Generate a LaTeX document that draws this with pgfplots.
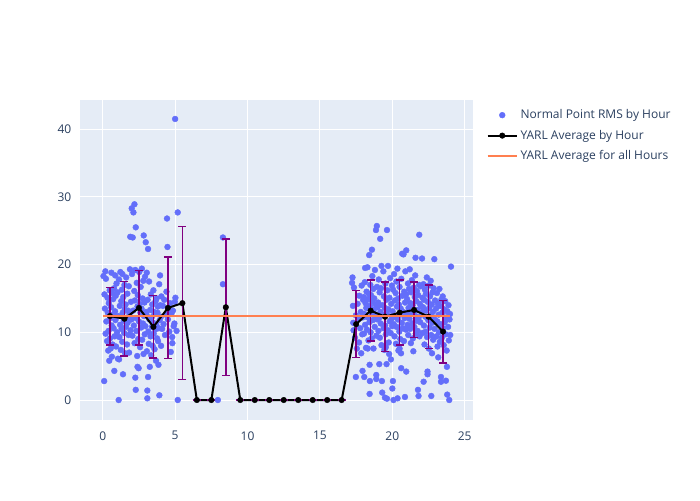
\documentclass[border=0pt]{standalone}
\usepackage{fontspec}
\setmainfont{Open Sans}
\usepackage{pgfplots}
\usepackage{pgfplotstable}
\pgfplotsset{compat=1.18}
\definecolor{bg}{HTML}{E5ECF6}
\definecolor{txt}{HTML}{2A3F5F}
\definecolor{pts}{HTML}{636EFA}
\definecolor{avg}{HTML}{FF7F50}
\definecolor{ebar}{RGB}{128,0,128}

\pgfplotstableread{
x y
0.05 18.3
0.1 2.8
0.12 15.6
0.15 13.5
0.2 9.8
0.22 17.9
0.25 11.6
0.3 8.7
0.33 15.1
0.35 12.9
0.4 10.2
0.42 14.3
0.45 5.8
0.48 16.2
0.5 9.1
0.52 12.1
0.55 7.6
0.58 13.7
0.6 18.8
0.62 11.0
0.65 15.8
0.68 8.2
0.7 12.6
0.72 14.9
0.75 10.6
0.78 16.5
0.8 4.3
0.82 9.4
0.85 13.1
0.88 11.8
0.9 15.4
0.92 7.9
0.95 17.2
0.97 12.3
0.99 10.0
0.18 19.0
0.38 7.3
0.63 6.4
0.86 18.4
1.02 15.9
1.05 6.1
1.08 12.4
1.1 0.0
1.12 17.8
1.15 9.3
1.18 13.9
1.2 11.1
1.22 18.9
1.25 7.4
1.28 14.6
1.3 10.5
1.33 16.3
1.35 8.6
1.38 12.9
1.4 3.8
1.42 15.2
1.45 11.7
1.48 9.9
1.5 17.0
1.52 13.4
1.55 6.9
1.58 14.1
1.6 10.8
1.62 18.1
1.65 12.0
1.68 8.2
1.7 15.7
1.72 11.4
1.75 13.2
1.78 9.6
1.8 16.8
1.82 7.0
1.85 12.7
1.88 19.3
1.9 24.1
1.92 10.3
1.95 14.5
1.98 11.9
1.13 6.0
1.36 18.6
2.0 28.3
2.02 18.6
2.05 9.5
2.07 24.0
2.1 13.2
2.12 27.7
2.15 11.0
2.18 16.1
2.19 28.9
2.2 8.4
2.22 14.7
2.25 19.2
2.25 3.3
2.28 25.5
2.28 1.5
2.3 12.1
2.32 10.2
2.35 17.3
2.38 6.5
2.4 13.8
2.42 15.5
2.45 9.0
2.48 4.7
2.5 11.6
2.52 18.9
2.55 14.2
2.58 7.8
2.6 12.9
2.62 16.7
2.65 10.7
2.68 13.5
2.7 19.4
2.72 8.9
2.75 15.0
2.78 11.3
2.8 17.6
2.82 6.8
2.83 24.3
2.85 12.4
2.88 14.4
2.9 9.7
2.92 18.2
2.95 10.9
2.97 23.3
2.98 13.0
2.4 4.9
3.02 12.6
3.05 7.2
3.08 1.4
3.08 0.25
3.1 14.8
3.13 22.3
3.13 3.4
3.15 10.1
3.18 8.3
3.2 17.5
3.22 11.9
3.25 4.9
3.28 13.3
3.3 9.4
3.32 15.6
3.35 6.6
3.38 12.2
3.4 10.8
3.42 14.1
3.45 8.0
3.48 11.4
3.5 16.2
3.52 9.8
3.55 13.0
3.58 7.5
3.6 12.7
3.62 10.4
3.65 14.6
3.68 5.8
3.7 11.1
3.72 15.0
3.75 9.1
3.78 12.9
3.8 13.8
3.82 8.7
3.85 5.2
3.87 10.6
3.9 17.1
3.91 0.7
3.93 11.8
3.96 18.4
3.98 14.0
3.04 18.8
4.02 12.3
4.03 8.0
4.05 15.3
4.1 10.5
4.15 13.9
4.2 11.2
4.25 14.8
4.3 9.6
4.35 12.6
4.4 16.0
4.44 26.8
4.47 22.6
4.5 11.9
4.55 13.4
4.6 10.1
4.65 14.3
4.7 7.1
4.75 12.8
4.8 9.3
4.81 8.4
4.85 13.2
4.9 10.9
4.95 11.3
4.98 14.5
5.0 41.5
5.02 15.1
5.18 27.7
5.18 0.0
5.1 10.2
7.95 0.0
8.3 24.0
8.3 17.1
}\lefttab

\pgfplotstableread{
x y
17.22 17.3
17.25 18.1
17.28 13.9
17.3 11.4
17.32 10.3
17.35 16.6
17.48 3.4
17.42 9.2
17.48 12.5
17.55 7.6
17.6 14.2
17.65 11.9
17.7 8.5
17.72 15.4
17.78 10.6
17.82 13.0
17.85 6.9
17.88 16.9
17.92 9.7
17.94 4.3
17.96 12.2
17.98 14.8
18.02 15.2
18.04 9.8
18.06 3.4
18.08 12.7
18.1 17.4
18.12 11.1
18.15 14.3
18.18 7.7
18.2 13.6
18.22 16.0
18.25 10.4
18.28 19.6
18.3 12.2
18.32 14.9
18.35 8.8
18.38 15.7
18.4 21.4
18.42 11.5
18.43 0.9
18.43 5.2
18.45 2.8
18.46 13.9
18.48 17.0
18.5 10.0
18.52 15.5
18.55 12.9
18.58 9.1
18.59 22.2
18.6 14.6
18.62 18.3
18.65 11.8
18.68 16.4
18.7 7.6
18.72 13.3
18.75 15.0
18.78 10.8
18.8 19.2
18.82 12.4
18.85 14.1
18.87 25.1
18.89 3.7
18.89 3.1
18.9 9.5
18.93 25.7
18.94 16.7
18.96 11.9
18.98 13.7
18.3 7.6
18.12 19.5
19.02 14.4
19.04 10.2
19.06 17.8
19.08 12.1
19.1 5.3
19.12 15.9
19.14 9.2
19.16 23.8
19.18 13.0
19.2 11.3
19.22 16.5
19.25 8.1
19.28 2.8
19.3 1.1
19.32 14.0
19.35 12.5
19.38 19.0
19.4 10.6
19.42 15.3
19.45 7.4
19.48 13.6
19.49 0.35
19.5 11.0
19.52 17.2
19.55 9.7
19.58 14.8
19.6 5.3
19.62 12.8
19.63 25.1
19.63 0.2
19.65 16.2
19.68 10.3
19.7 19.8
19.72 13.4
19.75 8.5
19.78 6.8
19.8 15.1
19.82 11.6
19.85 18.0
19.88 9.9
19.9 6.0
19.92 14.2
19.95 12.0
19.97 16.9
19.99 10.9
19.25 19.8
19.55 7.8
20.02 13.1
20.04 2.8
20.05 16.3
20.0 1.7
20.08 0.0
20.1 11.2
20.12 18.6
20.15 9.4
20.18 14.7
20.2 12.3
20.22 15.8
20.25 8.3
20.28 17.5
20.3 10.8
20.32 13.8
20.35 19.4
20.36 0.25
20.38 11.9
20.4 15.0
20.42 7.3
20.45 14.1
20.48 10.1
20.5 16.7
20.52 12.6
20.55 9.0
20.58 13.5
20.6 6.9
20.61 4.7
20.62 17.9
20.65 11.4
20.68 21.6
20.7 15.4
20.72 10.6
20.75 13.0
20.77 21.5
20.8 8.7
20.82 16.0
20.85 12.1
20.87 0.45
20.88 14.4
20.9 19.0
20.92 10.4
20.95 15.6
20.96 4.2
20.96 22.1
20.98 12.8
20.5 7.6
21.02 14.9
21.05 11.1
21.08 17.2
21.1 9.6
21.12 13.6
21.15 16.4
21.18 12.0
21.2 19.3
21.22 10.5
21.25 14.3
21.28 8.4
21.3 15.9
21.32 12.7
21.35 17.7
21.38 11.3
21.4 14.0
21.42 9.1
21.45 7.2
21.48 16.6
21.5 13.1
21.52 10.8
21.55 15.2
21.58 18.4
21.6 12.4
21.62 9.8
21.65 14.6
21.68 11.7
21.7 16.1
21.72 13.3
21.75 10.2
21.77 1.5
21.78 15.5
21.81 0.6
21.82 12.2
21.85 17.0
21.86 24.4
21.88 9.4
21.9 14.2
21.92 11.5
21.95 16.8
21.98 13.8
21.6 21.0
22.02 12.9
22.05 20.9
22.08 15.1
22.1 9.9
22.12 13.7
22.15 17.1
22.16 2.7
22.18 11.0
22.2 14.8
22.22 8.2
22.25 16.3
22.28 12.3
22.3 10.1
22.32 15.7
22.35 13.2
22.38 18.1
22.4 9.3
22.43 4.2
22.43 3.8
22.45 14.5
22.48 11.8
22.5 16.9
22.52 7.6
22.55 13.6
22.58 10.7
22.6 15.3
22.62 12.5
22.65 17.6
22.68 9.6
22.69 0.6
22.72 14.1
22.74 6.9
22.75 11.4
22.78 15.9
22.8 13.0
22.82 8.9
22.85 16.5
22.88 12.0
22.9 20.8
22.92 10.5
22.95 14.7
22.98 11.7
23.02 13.5
23.05 9.4
23.08 15.8
23.1 11.6
23.12 7.9
23.15 14.2
23.17 6.3
23.2 12.6
23.22 10.0
23.25 16.4
23.28 8.6
23.3 13.9
23.32 11.2
23.36 3.4
23.36 2.7
23.38 14.8
23.42 9.2
23.45 12.9
23.48 15.3
23.5 10.6
23.55 8.1
23.58 13.4
23.62 11.5
23.65 14.6
23.68 9.7
23.7 2.85
23.72 12.2
23.75 7.3
23.77 4.9
23.79 0.8
23.8 13.1
23.85 10.8
23.88 14.0
23.9 8.8
23.93 0.0
23.95 11.9
23.98 12.7
24.05 19.7
24.0 9.6
}\righttab

\begin{document}
\begin{tikzpicture}
\path[use as bounding box] (-60pt,-60pt) rectangle (465pt,315pt);
\begin{axis}[
  at={(0pt,0pt)}, anchor=south west,
  scale only axis, width=294.75pt, height=240pt,
  xmin=-1.57, xmax=25.57, ymin=-2.95, ymax=44.3,
  clip marker paths=true,
  axis background/.style={fill=bg},
  axis line style={draw=none},
  xtick={0,5,...,25}, ytick={0,10,...,40},
  tick style={draw=none},
  grid=major, major grid style={white, line width=0.75pt},
  extra x ticks={0}, extra x tick labels={},
  extra y ticks={0}, extra y tick labels={},
  extra tick style={grid style={white, line width=1.5pt}},
  /pgf/number format/assume math mode=true,
  tick label style={font=\fontsize{9}{10}\selectfont, text=txt},
  xticklabel style={yshift=-5pt},
  yticklabel style={xshift=-3pt},
  legend cell align=left,
  legend style={at={(1,1)}, anchor=north west, xshift=8pt, yshift=-3pt,
    draw=none, fill=none, font=\fontsize{9}{10}\selectfont, text=txt,
    row sep=3pt, inner sep=2pt},
  legend image code/.code={\draw[mark repeat=2,mark phase=2,#1] plot coordinates {(0pt,0pt) (11pt,0pt) (22pt,0pt)};},
]
\addplot[only marks, mark=*, mark size=2.2pt, color=pts, mark options={solid, pts, line width=0.3pt}] table[x=x,y=y] {\lefttab};
\addlegendentry{Normal Point RMS by Hour}
\addplot[only marks, mark=*, mark size=2.2pt, color=pts, mark options={solid, pts, line width=0.3pt}, forget plot] table[x=x,y=y] {\righttab};
\addplot[black, line width=1.5pt, mark=*, mark size=2.1pt, mark options={solid, black, line width=0.3pt},
  error bars/.cd, y dir=both, y explicit,
  error bar style={ebar, line width=1.1pt},
  error mark options={rotate=90, mark size=3pt, line width=1.1pt, ebar}]
coordinates {
(0.5,12.4) +- (0,4.25)
(1.5,12.0) +- (0,5.5)
(2.5,13.6) +- (0,5.5)
(3.5,10.8) +- (0,4.6)
(4.5,13.6) +- (0,7.5)
(5.5,14.3) +- (0,11.3)
(6.5,0) +- (0,0)
(7.5,0) +- (0,0)
(8.5,13.7) +- (0,10.1)
(9.5,0) +- (0,0)
(10.5,0) +- (0,0)
(11.5,0) +- (0,0)
(12.5,0) +- (0,0)
(13.5,0) +- (0,0)
(14.5,0) +- (0,0)
(15.5,0) +- (0,0)
(16.5,0) +- (0,0)
(17.5,11.2) +- (0,4.95)
(18.5,13.2) +- (0,4.5)
(19.5,12.3) +- (0,5.1)
(20.5,12.9) +- (0,4.8)
(21.5,13.3) +- (0,4.1)
(22.5,12.3) +- (0,4.7)
(23.5,10.1) +- (0,4.6)
};
\addlegendentry{YARL Average by Hour}
\addplot[avg, line width=1.5pt] coordinates {(0,12.4) (24,12.4)};
\addlegendentry{YARL Average for all Hours}
\end{axis}
\end{tikzpicture}
\end{document}
